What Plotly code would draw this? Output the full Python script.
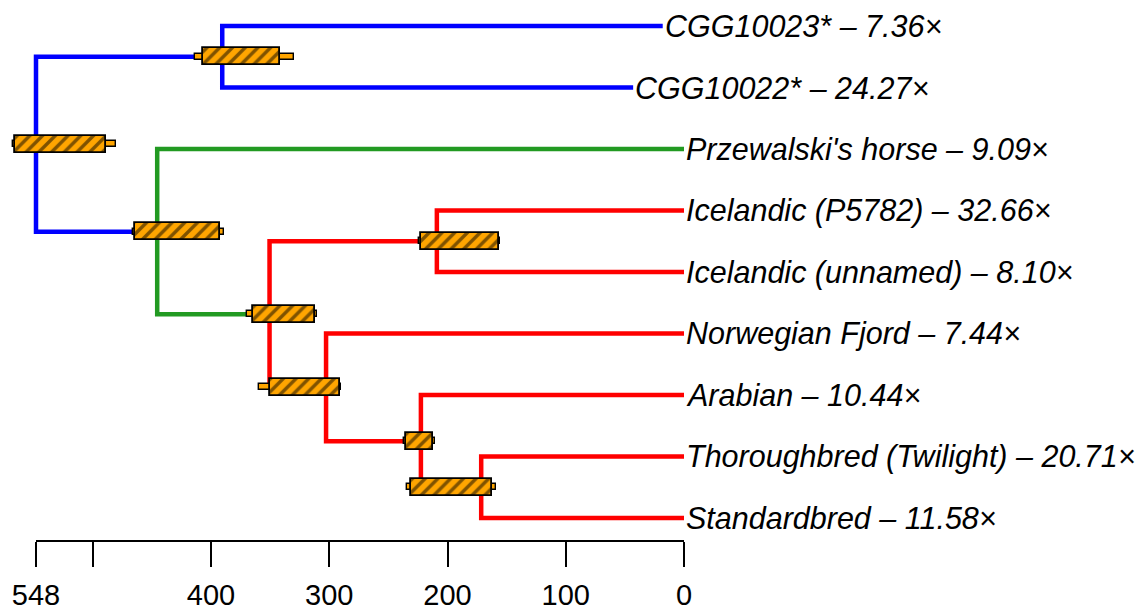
import plotly.graph_objects as go

# Tip samples (top to bottom), their sequencing depth and sampling age (years before present)
samples = ["CGG10023*", "CGG10022*", "Przewalski's horse", "Icelandic (P5782)",
           "Icelandic (unnamed)", "Norwegian Fjord", "Arabian",
           "Thoroughbred (Twilight)", "Standardbred"]
coverage = ["7.36", "24.27", "9.09", "32.66", "8.10", "7.44", "10.44", "20.71", "11.58"]
tip_age = [18, 43, 0, 0, 0, 0, 0, 0, 0]

# Internal nodes: name -> (children, age, clade colour)
node_names = ["root", "cgg", "prz", "dom", "ice", "nor", "ara", "tbsb"]
node_children = [["cgg", "prz"], [0, 1], [2, "dom"], ["ice", "nor"], [3, 4],
                 [5, "ara"], [6, "tbsb"], [7, 8]]
node_age = [548, 390.5, 445.5, 350.5, 209, 302.7, 222.5, 171.5]
node_colour = ["#0000FF", "#0000FF", "#229A22", "#FF0000", "#FF0000",
               "#FF0000", "#FF0000", "#FF0000"]

# Posterior intervals for node ages: inner (hatched box) and outer (thin bar)
hpd_inner_lo = [488.8, 341.6, 392.3, 311.8, 156.8, 290.9, 212.3, 162.4]
hpd_inner_hi = [565.8, 406.5, 464.0, 364.7, 222.2, 350.1, 234.8, 230.6]
hpd_outer_lo = [480.3, 329.8, 389.0, 310.0, 155.2, 290.0, 210.6, 159.0]
hpd_outer_hi = [567.5, 413.3, 465.6, 369.2, 223.8, 359.1, 236.8, 234.0]

axis_ticks = [548, 500, 400, 300, 200, 100, 0]
axis_labels = ["548", "", "400", "300", "200", "100", "0"]

FONT = "Liberation Sans, Arial, Helvetica, sans-serif"

# Resolve node positions (tips at y = 1..n)
node_idx = {n: i for i, n in enumerate(node_names)}


def pos(ref):
    if isinstance(ref, int):
        return tip_age[ref], ref + 1
    i = node_idx[ref]
    ys = [pos(c)[1] for c in node_children[i]]
    return node_age[i], sum(ys) / len(ys)


fig = go.Figure()

# Branches: one elbow path per internal node, in its clade colour
for i, name in enumerate(node_names):
    a_age, _ = pos(name)
    (c1x, c1y), (c2x, c2y) = [pos(c) for c in node_children[i]]
    fig.add_trace(go.Scatter(
        x=[c1x, a_age, a_age, c2x], y=[c1y, c1y, c2y, c2y],
        mode="lines", line=dict(color=node_colour[i], width=4.5),
        hoverinfo="skip", showlegend=False))

node_y = [pos(n)[1] for n in node_names]

# Interval bars sit on an overlaid subplot so they are drawn above the branches
# Outer interval: thin orange bar
fig.add_trace(go.Bar(
    orientation="h", y=node_y, xaxis="x3", yaxis="y3",
    base=hpd_outer_lo, x=[h - l for l, h in zip(hpd_outer_lo, hpd_outer_hi)],
    width=0.1, marker=dict(color="#FFA500", line=dict(color="black", width=1.4)),
    hoverinfo="skip", showlegend=False))

# Inner interval: hatched box
fig.add_trace(go.Bar(
    orientation="h", y=node_y, xaxis="x3", yaxis="y3",
    base=hpd_inner_lo, x=[h - l for l, h in zip(hpd_inner_lo, hpd_inner_hi)],
    width=0.28,
    marker=dict(color="#FFA500", line=dict(color="black", width=1.8),
                pattern=dict(shape="/", fgcolor="black", bgcolor="#FFA500",
                             size=9, solidity=0.38, fillmode="overlay")),
    hoverinfo="skip", showlegend=False))

# Tip labels
for k, (s, c) in enumerate(zip(samples, coverage)):
    fig.add_annotation(x=tip_age[k], y=k + 1, text=f"{s} – {c}×",
                       xanchor="left", yanchor="middle", showarrow=False,
                       xshift=0, font=dict(family=FONT, size=30.5, color="black",
                                           style="italic"))

# Time scale axis drawn on its own subplot spanning 548..0
fig.add_trace(go.Scatter(x=[548, 0], y=[0, 0], xaxis="x2", yaxis="y2",
                         mode="markers", marker=dict(opacity=0),
                         hoverinfo="skip", showlegend=False))

W, H = 1146, 610
px_per_year = (684 - 36) / 548.0
x_range = [548 + 36 / px_per_year, -(W - 684) / px_per_year]
y_range = [1 + (H - 26) / 61.5, 1 - 26 / 61.5]

fig.update_layout(
    width=W, height=H,
    margin=dict(l=0, r=0, t=0, b=0, autoexpand=False),
    paper_bgcolor="white", plot_bgcolor="rgba(0,0,0,0)",
    barmode="overlay", bargap=0,
    xaxis=dict(domain=[0, 1], range=x_range, visible=False, fixedrange=True),
    yaxis=dict(domain=[0, 1], range=y_range, visible=False, fixedrange=True),
    xaxis3=dict(overlaying="x", range=x_range, visible=False, fixedrange=True),
    yaxis3=dict(overlaying="y", range=y_range, visible=False, fixedrange=True),
    xaxis2=dict(domain=[36 / W, 684 / W], range=[548, 0], anchor="y2",
                automargin=False,
                showline=True, linecolor="black", linewidth=1.5,
                ticks="outside", ticklen=25, tickwidth=1.5, tickcolor="black",
                tickvals=axis_ticks, ticktext=axis_labels, ticklabelstandoff=3,
                tickfont=dict(family=FONT, size=29, color="black"),
                showgrid=False, zeroline=False, fixedrange=True),
    yaxis2=dict(domain=[70 / H, 0.16], range=[0, 1], visible=False,
                fixedrange=True),
)

fig.write_html("out.html")
